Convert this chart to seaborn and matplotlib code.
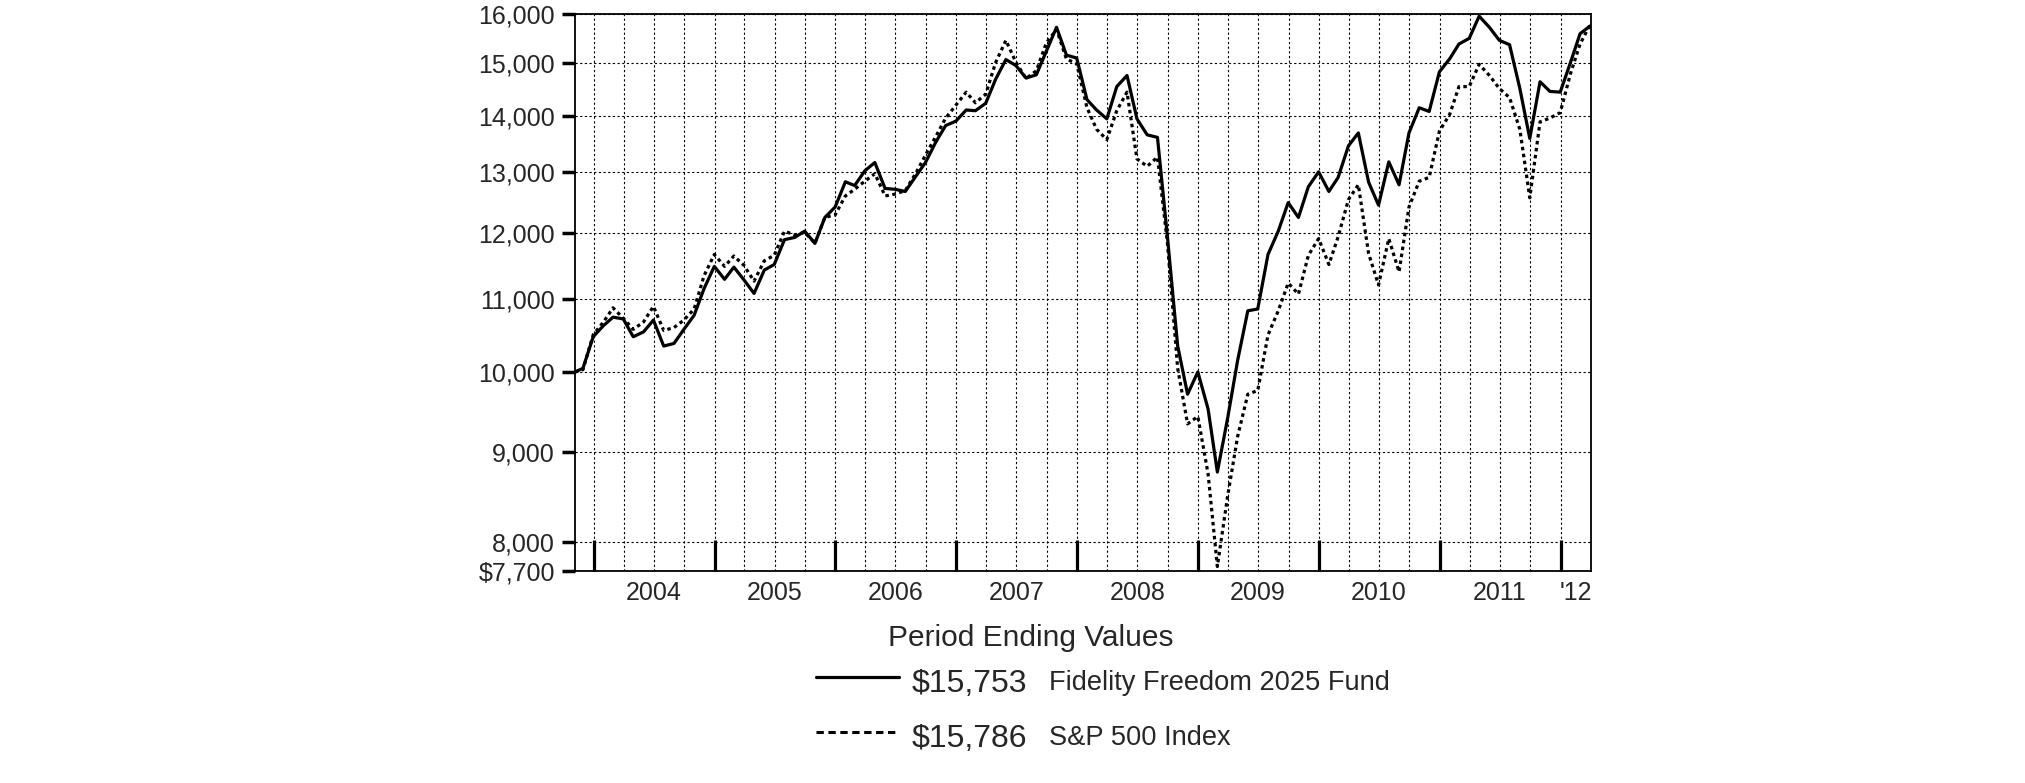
import pandas as pd
import matplotlib.pyplot as plt
from matplotlib.lines import Line2D
from matplotlib.ticker import NullLocator
import seaborn as sns

# start date of the fund, then month ends Nov 2003 .. Mar 2012
dates = [pd.Timestamp("2003-11-06")] + list(pd.date_range("2003-11-30", "2012-03-31", freq="ME"))

fund = [10000,
        10048, 10473,
        10627, 10746, 10720, 10473, 10540, 10705, 10346, 10381, 10575, 10773, 11157, 11487,
        11293, 11476, 11282, 11086, 11431, 11515, 11897, 11932, 12031, 11839, 12249, 12418,
        12836, 12773, 13024, 13165, 12724, 12711, 12674, 12923, 13165, 13521, 13820, 13901,
        14105, 14092, 14230, 14687, 15071, 14954, 14709, 14773, 15233, 15723, 15160, 15100,
        14299, 14105, 13942, 14545, 14759, 13942, 13652, 13607, 11950, 10350, 9712, 10000,
        9525, 8768, 9410, 10147, 10836, 10862, 11668, 12031, 12490, 12249, 12754, 13005,
        12674, 12911, 13456, 13687, 12830, 12448, 13177, 12786, 13687, 14147, 14078, 14831,
        15086, 15382, 15496, 15954, 15723, 15457, 15367, 14510, 13587, 14638, 14453, 14440,
        15013, 15592, 15753]

sp500 = [10000,
         10030, 10500,
         10678, 10878, 10730, 10575, 10678, 10899, 10560, 10600, 10705, 10862, 11348, 11668,
         11487, 11644, 11500, 11266, 11571, 11655, 12031, 11970, 12010, 11845, 12250, 12290,
         12600, 12711, 12847, 12973, 12600, 12630, 12690, 12973, 13293, 13620, 13956, 14196,
         14439, 14240, 14400, 15013, 15457, 15020, 14700, 14850, 15400, 15680, 15080, 14990,
         14150, 13752, 13567, 14092, 14439, 13228, 13100, 13259, 11850, 10050, 9341, 9432,
         8747, 7745, 8495, 9183, 9712, 9759, 10498, 10836, 11238, 11076, 11655, 11914,
         11515, 11943, 12539, 12786, 11680, 11211, 11914, 11404, 12418, 12847, 12911, 13720,
         14023, 14545, 14545, 14977, 14759, 14510, 14335, 13752, 12569, 13888, 13956, 14057,
         14794, 15382, 15786]

series_names = ["Fidelity Freedom 2025 Fund", "S&P 500 Index"]
end_values = ["$15,753", "$15,786"]

y_ticks = [7700, 8000, 9000, 10000, 11000, 12000, 13000, 14000, 15000, 16000]
y_labels = ["$7,700", "8,000", "9,000", "10,000", "11,000", "12,000",
            "13,000", "14,000", "15,000", "16,000"]

year_labels = ["2004", "2005", "2006", "2007", "2008", "2009", "2010", "2011", "'12"]
year_label_dates = ["2004-07-01", "2005-07-01", "2006-07-01", "2007-07-01", "2008-07-01",
                    "2009-07-01", "2010-07-01", "2011-07-01", "2012-02-15"]

sns.set_style("white")
plt.rcParams["font.family"] = ["Liberation Sans", "DejaVu Sans"]

fig = plt.figure(figsize=(20.25, 7.83), dpi=100)
ax = fig.add_axes([575 / 2025, 1 - 571 / 783, 1016 / 2025, 557 / 783])

df = pd.DataFrame({"date": dates, "fund": fund, "sp500": sp500})
sns.lineplot(data=df, x="date", y="fund", ax=ax, color="black", linewidth=2.3, zorder=4)
sns.lineplot(data=df, x="date", y="sp500", ax=ax, color="black", linewidth=2.3,
             linestyle=(0, (1.1, 1.1)), zorder=3)

ax.set_yscale("log")
ax.set_ylim(7700, 16000)
ax.set_xlim(pd.Timestamp("2003-11-06"), pd.Timestamp("2012-04-02"))
ax.set_yticks(y_ticks)
ax.set_yticklabels(y_labels)
ax.yaxis.set_minor_locator(NullLocator())

year_starts = pd.date_range("2004-01-01", "2012-01-01", freq="YS")
quarters = pd.date_range("2004-01-01", "2012-01-01", freq="QS")
ax.set_xticks(year_starts)
ax.set_xticks(quarters, minor=True)
ax.set_xticklabels([])
ax.set_xlabel("")
ax.set_ylabel("")

ax.tick_params(axis="y", which="major", direction="out", length=9.5, width=2.5,
               labelsize=18, pad=5, color="black", left=True)
ax.tick_params(axis="x", which="major", direction="in", length=22, width=2.3,
               color="black", bottom=True)
ax.tick_params(axis="x", which="minor", length=0)

grid_style = dict(color="black", linewidth=0.8, linestyle=(0, (2, 2.2)))
ax.grid(True, axis="y", which="major", **grid_style)
ax.grid(True, axis="x", which="both", **grid_style)
ax.set_axisbelow(True)

for side in ["left", "right", "top", "bottom"]:
    ax.spines[side].set_visible(True)
    ax.spines[side].set_color("black")
    ax.spines[side].set_linewidth(1.3)

for lbl, d in zip(year_labels, year_label_dates):
    ax.text(pd.Timestamp(d), -0.018, lbl, transform=ax.get_xaxis_transform(),
            ha="center", va="top", fontsize=18)

# legend block under the chart
def fx(px):
    return px / 2025

def fy(py):
    return 1 - py / 783

fig.text(fx(888), fy(646), "Period Ending Values", fontsize=21.5, va="baseline")
fig.add_artist(Line2D([fx(816), fx(899)], [fy(677), fy(677)], color="black", linewidth=2.3))
fig.add_artist(Line2D([fx(816), fx(899)], [fy(732), fy(732)], color="black", linewidth=2.2,
                      linestyle=(0, (2.4, 1.5))))
fig.text(fx(912), fy(692), end_values[0], fontsize=23, va="baseline")
fig.text(fx(1049), fy(690), series_names[0], fontsize=19.6, va="baseline")
fig.text(fx(912), fy(747), end_values[1], fontsize=23, va="baseline")
fig.text(fx(1049), fy(745), series_names[1], fontsize=19.6, va="baseline")

fig.savefig("out.png", dpi=100, facecolor="white")
